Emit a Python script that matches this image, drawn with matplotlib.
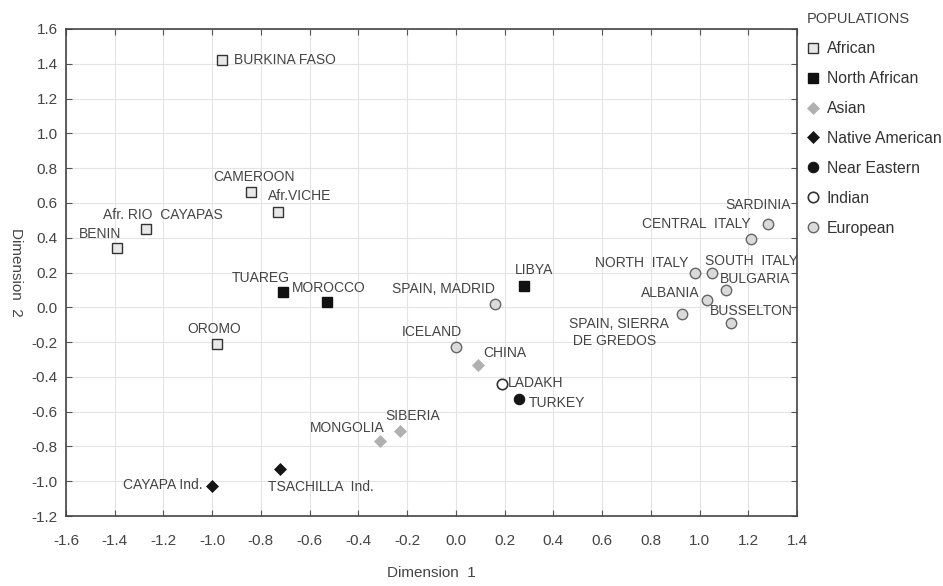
import matplotlib
matplotlib.use("Agg")
import matplotlib.pyplot as plt
from matplotlib.lines import Line2D

plt.rcParams['font.family'] = ['Liberation Sans', 'DejaVu Sans']

# ---------------- data ----------------
african_names = ["BURKINA FASO", "CAMEROON", "Afr.VICHE", "Afr. RIO  CAYAPAS", "BENIN", "OROMO"]
african_x = [-0.96, -0.84, -0.73, -1.27, -1.39, -0.98]
african_y = [1.42, 0.66, 0.55, 0.45, 0.34, -0.21]

nafrican_names = ["TUAREG", "MOROCCO", "LIBYA"]
nafrican_x = [-0.71, -0.53, 0.28]
nafrican_y = [0.09, 0.03, 0.12]

asian_names = ["CHINA", "SIBERIA", "MONGOLIA"]
asian_x = [0.09, -0.23, -0.31]
asian_y = [-0.33, -0.71, -0.77]

native_names = ["TSACHILLA  Ind.", "CAYAPA Ind."]
native_x = [-0.72, -1.00]
native_y = [-0.93, -1.03]

neareast_names = ["TURKEY"]
neareast_x = [0.26]
neareast_y = [-0.53]

indian_names = ["LADAKH"]
indian_x = [0.19]
indian_y = [-0.44]

european_names = ["SPAIN, MADRID", "ICELAND", "SARDINIA", "CENTRAL  ITALY", "NORTH  ITALY",
                  "SOUTH  ITALY", "BULGARIA", "ALBANIA", "SPAIN, SIERRA\n DE GREDOS", "BUSSELTON"]
european_x = [0.16, 0.00, 1.28, 1.21, 0.98, 1.05, 1.11, 1.03, 0.93, 1.13]
european_y = [0.02, -0.23, 0.48, 0.39, 0.20, 0.20, 0.10, 0.04, -0.04, -0.09]

legend_labels = ["African", "North African", "Asian", "Native American",
                 "Near Eastern", "Indian", "European"]
x_ticks = [-1.6, -1.4, -1.2, -1.0, -0.8, -0.6, -0.4, -0.2, 0.0, 0.2, 0.4, 0.6, 0.8, 1.0, 1.2, 1.4]
y_ticks = [-1.2, -1.0, -0.8, -0.6, -0.4, -0.2, 0.0, 0.2, 0.4, 0.6, 0.8, 1.0, 1.2, 1.4, 1.6]

# ---------------- styles ----------------
styles = [
    dict(marker='s', ms=7.5, mfc='#e8e8e8', mec='#333333', mew=1.0),
    dict(marker='s', ms=7.5, mfc='#111111', mec='#111111', mew=1.0),
    dict(marker='D', ms=6.5, mfc='#b0b0b0', mec='#b0b0b0', mew=0.5),
    dict(marker='D', ms=6.5, mfc='#151515', mec='#151515', mew=0.5),
    dict(marker='o', ms=7.5, mfc='#151515', mec='#151515', mew=0.8),
    dict(marker='o', ms=7.5, mfc='white', mec='#333333', mew=1.2),
    dict(marker='o', ms=7.5, mfc='#dadada', mec='#666666', mew=1.0),
]

# label offsets in pixels (dx, dy, ha, va)
offsets = {
    "BURKINA FASO": (12, 0, 'left', 'center'),
    "CAMEROON": (3, 15, 'center', 'center'),
    "Afr.VICHE": (-10, 16, 'left', 'center'),
    "Afr. RIO  CAYAPAS": (16, 14, 'center', 'center'),
    "BENIN": (-17, 14, 'center', 'center'),
    "OROMO": (-3, 15, 'center', 'center'),
    "TUAREG": (-22, 14, 'center', 'center'),
    "MOROCCO": (2, 14, 'center', 'center'),
    "LIBYA": (10, 16, 'center', 'center'),
    "CHINA": (5, 12, 'left', 'center'),
    "SIBERIA": (13, 15, 'center', 'center'),
    "MONGOLIA": (4, 13, 'right', 'center'),
    "TSACHILLA  Ind.": (-12, -18, 'left', 'center'),
    "CAYAPA Ind.": (-10, 1, 'right', 'center'),
    "TURKEY": (10, -4, 'left', 'center'),
    "LADAKH": (6, 1, 'left', 'center'),
    "SPAIN, MADRID": (0, 15, 'right', 'center'),
    "ICELAND": (-24, 15, 'center', 'center'),
    "SARDINIA": (-10, 19, 'center', 'center'),
    "CENTRAL  ITALY": (0, 15, 'right', 'center'),
    "NORTH  ITALY": (-6, 10, 'right', 'center'),
    "SOUTH  ITALY": (-7, 12, 'left', 'center'),
    "BULGARIA": (-6, 11, 'left', 'center'),
    "ALBANIA": (-7, 7, 'right', 'center'),
    "SPAIN, SIERRA\n DE GREDOS": (-113, -18, 'left', 'center'),
    "BUSSELTON": (-21, 12, 'left', 'center'),
}

groups = [
    (african_names, african_x, african_y),
    (nafrican_names, nafrican_x, nafrican_y),
    (asian_names, asian_x, asian_y),
    (native_names, native_x, native_y),
    (neareast_names, neareast_x, neareast_y),
    (indian_names, indian_x, indian_y),
    (european_names, european_x, european_y),
]

fig = plt.figure(figsize=(9.43, 5.86), dpi=100)
ax = fig.add_axes([66/943, 1-516/586, (797-66)/943, (516-29)/586])

text_color = '#444444'
for (names, xs, ys), st in zip(groups, styles):
    ax.plot(xs, ys, linestyle='none', zorder=3, **st)
    for n, x, y in zip(names, xs, ys):
        dx, dy, ha, va = offsets[n]
        ax.annotate(n, (x, y), xytext=(dx, dy), textcoords='offset pixels',
                    ha=ha, va=va, fontsize=10, color=text_color, linespacing=1.25)

ax.set_xlim(-1.6, 1.4)
ax.set_ylim(-1.2, 1.6)
ax.set_xticks(x_ticks)
ax.set_yticks(y_ticks)
ax.set_xticklabels([f"{v:.1f}" for v in x_ticks])
ax.set_yticklabels([f"{v:.1f}" for v in y_ticks])
ax.tick_params(direction='in', length=4, width=0.8, color='#555555',
               top=True, right=True, labelsize=11, labelcolor='#444444')
ax.tick_params(axis='x', pad=13)
ax.tick_params(axis='y', pad=6)
ax.grid(True, color='#e4e4e4', linewidth=0.8)
ax.set_axisbelow(True)
for sp in ax.spines.values():
    sp.set_color('#444444')
    sp.set_linewidth(1.2)

ax.set_xlabel("Dimension  1", fontsize=11, color='#444444', labelpad=13)
fig.text(16/943, 1-272/586, "Dimension  2", rotation=270, ha='center', va='center',
         fontsize=11, color='#444444')

handles = [Line2D([], [], linestyle='none', **st) for st in styles]
leg = fig.legend(handles, legend_labels, loc='upper left',
                 bbox_to_anchor=(800/943, 1-6/586), frameon=False,
                 title="POPULATIONS", fontsize=11.3, title_fontsize=10.5,
                 handlelength=0.8, handletextpad=0.5, labelspacing=0.95,
                 borderaxespad=0, alignment='left')
for t in leg.get_texts():
    t.set_color('#333333')
leg.get_title().set_color('#444444')

fig.savefig("out.png", dpi=100)
